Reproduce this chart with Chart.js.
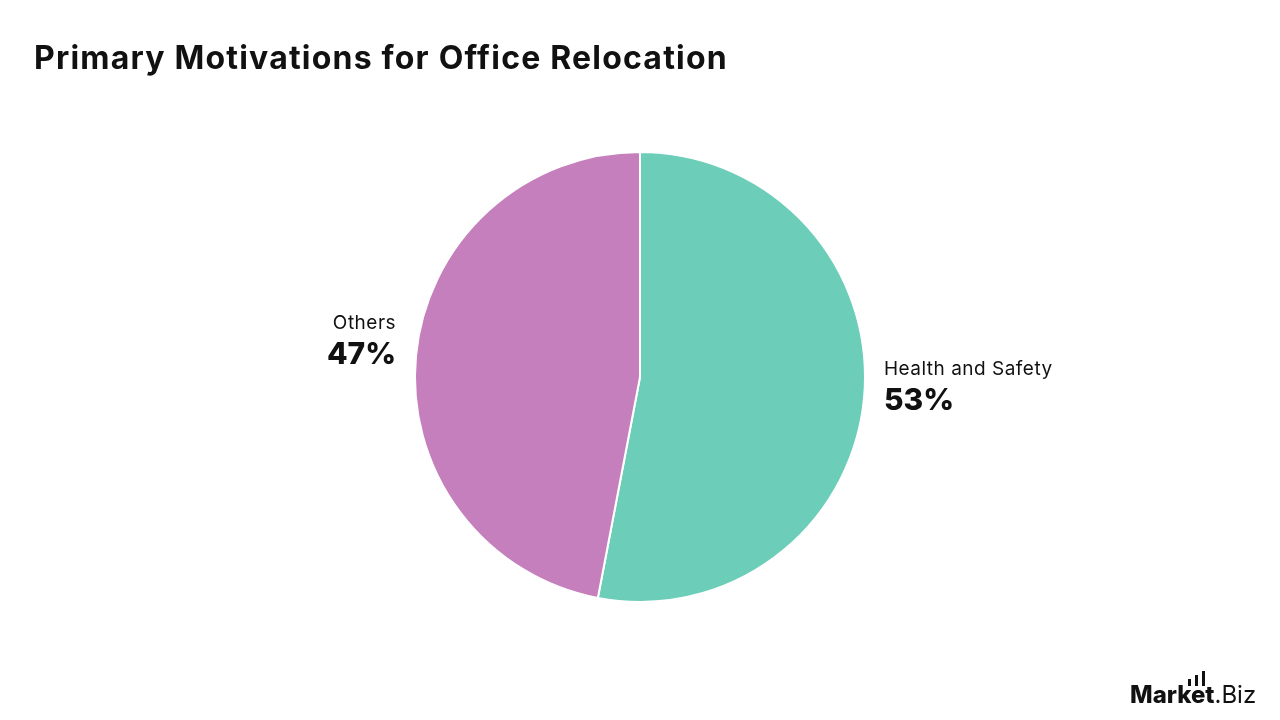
<!DOCTYPE html>
<html>
<head>
<meta charset="utf-8">
<script src="https://cdn.jsdelivr.net/npm/chart.js@4/dist/chart.umd.min.js"></script>
<style>
    html, body { margin: 0; padding: 0; background: #fff; }
    #wrap { position: relative; width: 1280px; height: 720px; overflow: hidden; }
    #title {
        position: absolute; left: 34px; top: 38px;
        font-family: Inter, "Open Sans", sans-serif; font-weight: 700;
        font-size: 32px; color: #111; letter-spacing: 1.2px;
    }
    #logo {
        position: absolute; left: 1130px; top: 668px;
        font-family: Inter, "Open Sans", sans-serif; color: #111; font-size: 24px;
    }
    #logo b { font-weight: 800; }
    #logo .bars { position: absolute; left: 58px; top: 4px; }
    #logo .bars span { position: absolute; bottom: -14px; width: 3px; background: #111; }
</style>
</head>
<body>
<div id="wrap">
    <div id="title">Primary Motivations for Office Relocation</div>
    <canvas id="pieChart" width="1280" height="720"></canvas>
    <div id="logo">
        <div class="bars">
            <span style="left:0; height:7px"></span>
            <span style="left:7px; height:11px"></span>
            <span style="left:14px; height:15px"></span>
        </div>
        <div style="position:absolute; top:12px; white-space:nowrap;"><b>Market</b>.Biz</div>
    </div>
</div>
<script>
const categories = ["Health and Safety", "Others"];
const shares = [53, 47];
const sliceColors = ["#6ccdb8", "#c47fbc"];

// draw "name / NN%" next to each slice
const outsideLabels = {
    id: "outsideLabels",
    afterDatasetsDraw(chart) {
        const ctx = chart.ctx;
        const meta = chart.getDatasetMeta(0);
        meta.data.forEach((arc, i) => {
            const mid = (arc.startAngle + arc.endAngle) / 2;
            const r = arc.outerRadius + 20;
            const x = arc.x + Math.cos(mid) * r;
            const y = arc.y + Math.sin(mid) * r;
            const align = Math.cos(mid) >= 0 ? "left" : "right";
            ctx.save();
            ctx.fillStyle = "#111";
            ctx.textAlign = align;
            ctx.textBaseline = "middle";
            ctx.letterSpacing = "0.5px";
            ctx.font = "400 19px Inter, 'Open Sans', sans-serif";
            ctx.fillText(categories[i], x, y - 31);
            ctx.letterSpacing = "0px";
            ctx.font = "800 30px Inter, 'Open Sans', sans-serif";
            ctx.fillText(shares[i] + "%", x, y + 1);
            ctx.restore();
        });
    }
};

document.addEventListener("DOMContentLoaded", function () {
    const ctx = document.getElementById("pieChart").getContext("2d");

    new Chart(ctx, {
        type: "pie",
        data: {
            labels: categories,
            datasets: [{
                data: shares,
                backgroundColor: sliceColors,
                borderColor: "#fff",
                borderWidth: 2
            }]
        },
        options: {
            responsive: false,
            animation: false,
            layout: {
                padding: { top: 151, bottom: 117, left: 300, right: 300 }
            },
            plugins: {
                legend: { display: false },
                tooltip: { enabled: false }
            }
        },
        plugins: [outsideLabels]
    });
});
</script>
</body>
</html>
